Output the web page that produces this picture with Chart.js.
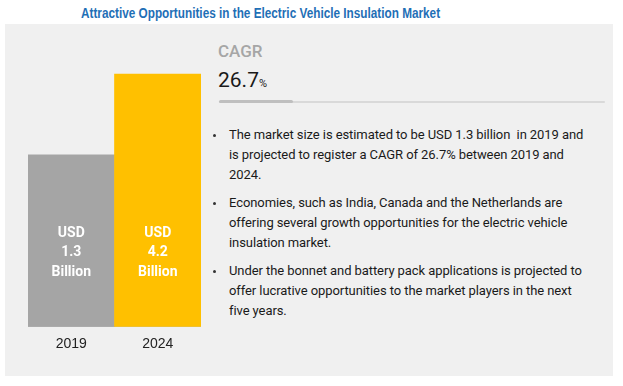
<!DOCTYPE html>
<html>
<head>
<meta charset="utf-8">
<script src="https://cdn.jsdelivr.net/npm/chart.js@4"></script>
<style>
  html, body { margin: 0; padding: 0; background: #fff; }
  body { width: 623px; height: 386px; position: relative; overflow: hidden; }
  #title {
    position: absolute; left: 81px; top: 5px; white-space: nowrap; transform-origin: 0 0;
    font: bold 14px "Liberation Sans", Arial, sans-serif;
    color: #1f6fb6;
  }
  #panel { position: absolute; left: 5px; top: 24px; width: 608px; height: 352px; background: #f0f0f0; }
  #chartBox { position: absolute; left: 28px; top: 24px; width: 173px; height: 352px; }
  #cagrLabel { position: absolute; left: 218px; top: 41px; font: 500 17px Roboto, sans-serif; color: #a6a6a6; }
  #cagrValue { position: absolute; left: 218px; top: 68px; font: 21px Roboto, sans-serif; color: #1a1a1a; }
  #cagrValue small { font-size: 11px; }
  #track { position: absolute; left: 219px; top: 101px; width: 386px; height: 2px; background: #d9d9d9; border-radius: 1px; }
  #fill { position: absolute; left: 219px; top: 100px; width: 74px; height: 3px; background: #bfbfbf; border-radius: 2px; }
  #points { position: absolute; left: 229px; top: 124.5px; margin: 0; padding: 0; list-style: none;
    font: 13px Roboto, sans-serif; color: #1a1a1a; line-height: 20.4px; white-space: nowrap; letter-spacing: -0.08px; }
  #points li { position: relative; margin-bottom: 6.8px; }
  #points li::before { content: ""; position: absolute; left: -16px; top: 9px; width: 3px; height: 3px; border-radius: 50%; background: #333; }
</style>
</head>
<body>
<div id="title">Attractive Opportunities in the Electric Vehicle Insulation Market</div>
<div id="panel"></div>
<div id="chartBox"><canvas id="c"></canvas></div>
<div id="cagrLabel">CAGR</div>
<div id="cagrValue">26.7<small>%</small></div>
<div id="track"></div>
<div id="fill"></div>
<ul id="points">
  <li>The market size is estimated to be USD 1.3 billion&nbsp; in 2019 and<br>is projected to register a CAGR of 26.7% between 2019 and<br>2024.</li>
  <li>Economies, such as India, Canada and the Netherlands are<br>offering several growth opportunities for the electric vehicle<br>insulation market.</li>
  <li>Under the bonnet and battery pack applications is projected to<br>offer lucrative opportunities to the market players in the next<br>five years.</li>
</ul>
<script>
const years = ["2019", "2024"];
const marketSize = [1.3, 4.2];          // USD billion
const barColors = ["#a5a5a5", "#ffc000"];

// the bars in the original are not to scale, so the value axis starts well below zero
const axisMin = -4.87;
const axisMax = 6.0;

// squeeze the title to the width of the original (it was set in a narrow face)
const title = document.getElementById('title');
title.style.transform = 'scaleX(' + (359 / title.offsetWidth) + ')';

const valueLabels = {
  id: 'valueLabels',
  afterDatasetsDraw(chart) {
    const ctx = chart.ctx;
    const bottom = chart.chartArea.bottom;
    ctx.save();
    ctx.fillStyle = '#fff';
    ctx.textAlign = 'center';
    ctx.textBaseline = 'middle';
    ctx.font = 'bold 14px Roboto, sans-serif';
    chart.getDatasetMeta(0).data.forEach((bar, i) => {
      ctx.fillText('USD', bar.x, bottom - 93);
      ctx.fillText(marketSize[i].toFixed(1), bar.x, bottom - 74);
      ctx.fillText('Billion', bar.x, bottom - 54);
    });
    ctx.restore();
  }
};

new Chart(document.getElementById('c').getContext('2d'), {
  type: 'bar',
  data: {
    labels: years,
    datasets: [{
      data: marketSize,
      backgroundColor: barColors,
      base: axisMin,
      barPercentage: 1,
      categoryPercentage: 1
    }]
  },
  options: {
    responsive: true,
    maintainAspectRatio: false,
    animation: false,
    layout: { padding: 0 },
    plugins: { legend: { display: false }, tooltip: { enabled: false } },
    scales: {
      y: { display: false, min: axisMin, max: axisMax },
      x: {
        grid: { display: false, drawTicks: false },
        border: { display: true, color: '#bfbfbf', width: 1 },
        ticks: { color: '#222', padding: 9, font: { family: '"Liberation Sans", Arial, sans-serif', size: 14 } },
        afterFit(scale) { scale.height = 49.3; }
      }
    }
  },
  plugins: [valueLabels]
});
</script>
</body>
</html>
